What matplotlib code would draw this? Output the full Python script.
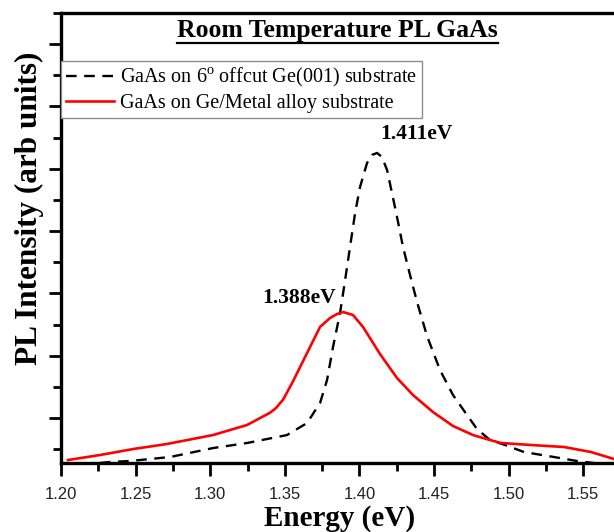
import matplotlib
matplotlib.use('Agg')
import matplotlib.pyplot as plt
from matplotlib.ticker import MultipleLocator, NullFormatter
from matplotlib.lines import Line2D

# energies (eV) and intensities (arb units)
offcut_E = [1.2261, 1.2328, 1.2462, 1.2597, 1.2731, 1.3019, 1.3247, 1.3515, 1.3649,
            1.3736, 1.3783, 1.3823, 1.3870, 1.3897, 1.3937, 1.3971, 1.4004, 1.4051,
            1.4084, 1.4118, 1.4151, 1.4185, 1.4218, 1.4252, 1.4292, 1.4339, 1.4386,
            1.4453, 1.4540, 1.4627, 1.4721, 1.4788, 1.4875, 1.4976, 1.5103, 1.5304,
            1.5458, 1.5572]
offcut_I = [-0.722, -0.706, -0.690, -0.658, -0.626, -0.482, -0.401, -0.273, -0.080,
            0.241, 0.610, 1.140, 1.685, 2.103, 2.745, 3.291, 3.708, 4.093,
            4.222, 4.254, 4.189, 3.981, 3.612, 3.226, 2.745, 2.295, 1.862,
            1.316, 0.770, 0.369, 0.048, -0.177, -0.353, -0.433, -0.546, -0.626,
            -0.690, -0.722]

alloy_E = [1.2047, 1.2261, 1.2483, 1.2710, 1.3019, 1.3247, 1.3401, 1.3441, 1.3490,
           1.3555, 1.3649, 1.3736, 1.3803, 1.3850, 1.3890, 1.3957, 1.4024, 1.4138,
           1.4252, 1.4359, 1.4493, 1.4627, 1.4761, 1.4875, 1.4949, 1.5150, 1.5371,
           1.5552, 1.5706]
alloy_I = [-0.674, -0.594, -0.498, -0.417, -0.273, -0.112, 0.085, 0.160, 0.300,
           0.590, 1.043, 1.461, 1.605, 1.669, 1.701, 1.653, 1.461, 1.027,
           0.642, 0.369, 0.096, -0.128, -0.273, -0.353, -0.401, -0.433, -0.465,
           -0.546, -0.658]

labels = ["GaAs on 6$^\\mathrm{o}$ offcut Ge(001) substrate",
          "GaAs on Ge/Metal alloy substrate"]
peaks = [("1.411eV", 1.4379, 4.56), ("1.388eV", 1.3595, 1.93)]

plt.rcParams['font.family'] = 'Liberation Serif'
plt.rcParams['mathtext.fontset'] = 'custom'
plt.rcParams['mathtext.rm'] = 'Liberation Serif'

fig = plt.figure(figsize=(6.14, 5.32), dpi=100)
ax = fig.add_axes([61/614, 69/532, 1 - 61/614, 450/532])

ax.plot(offcut_E, offcut_I, color='black', lw=1.7, ls=(0, (4.5, 3.2)), label=labels[0])
ax.plot(alloy_E, alloy_I, color='red', lw=1.9, label=labels[1])

ax.set_xlim(1.20, 1.5706)
ax.set_ylim(-0.722, 6.5)

ax.xaxis.set_major_locator(MultipleLocator(0.05))
ax.xaxis.set_minor_locator(MultipleLocator(0.025))
ax.yaxis.set_major_locator(MultipleLocator(1))
ax.yaxis.set_minor_locator(MultipleLocator(0.5))
ax.yaxis.set_major_formatter(NullFormatter())
ax.xaxis.set_major_formatter(plt.FuncFormatter(lambda v, p: '%.2f' % v))
ax.tick_params(which='major', direction='out', length=9, width=2, pad=8)
ax.tick_params(which='minor', direction='out', length=6, width=2)
ax.tick_params(axis='x', labelsize=12, labelcolor='#222222')
for lab in ax.get_xticklabels():
    lab.set_family('Liberation Sans')
ax.spines['right'].set_visible(False)
for s in ['left', 'bottom', 'top']:
    ax.spines[s].set_linewidth(2.4)

leg = ax.legend(loc='upper left', bbox_to_anchor=(61/614, 1 - 61/532),
                bbox_transform=fig.transFigure, borderaxespad=0, fontsize=14.5,
                frameon=True, fancybox=False, framealpha=1, handlelength=2.4,
                handletextpad=0.3, borderpad=0.25, labelspacing=0.25)
leg.get_frame().set_edgecolor('#8c8c8c')
leg.get_frame().set_linewidth(1.0)

for txt, x, y in peaks:
    ax.text(x, y, txt, ha='center', va='center', fontsize=15.5, fontweight='bold')

title = ax.text(0.5, 1 - 17/450, "Room Temperature PL GaAs", transform=ax.transAxes,
                ha='center', va='center', fontsize=18.5, fontweight='bold')

fig.text(29/614, 1 - 208/532, "PL Intensity (arb units)", rotation=90,
         ha='center', va='center', fontsize=22.5, fontweight='bold')
fig.text(340/614, 1 - 518/532, "Energy (eV)", ha='center', va='center',
         fontsize=21, fontweight='bold')

# underline the title
fig.canvas.draw()
bb = title.get_window_extent().transformed(fig.transFigure.inverted())
fig.add_artist(Line2D([bb.x0, bb.x1], [bb.y0 - 1/532, bb.y0 - 1/532],
                      transform=fig.transFigure, color='black', lw=1.6))

fig.savefig('out.png', dpi=100)
